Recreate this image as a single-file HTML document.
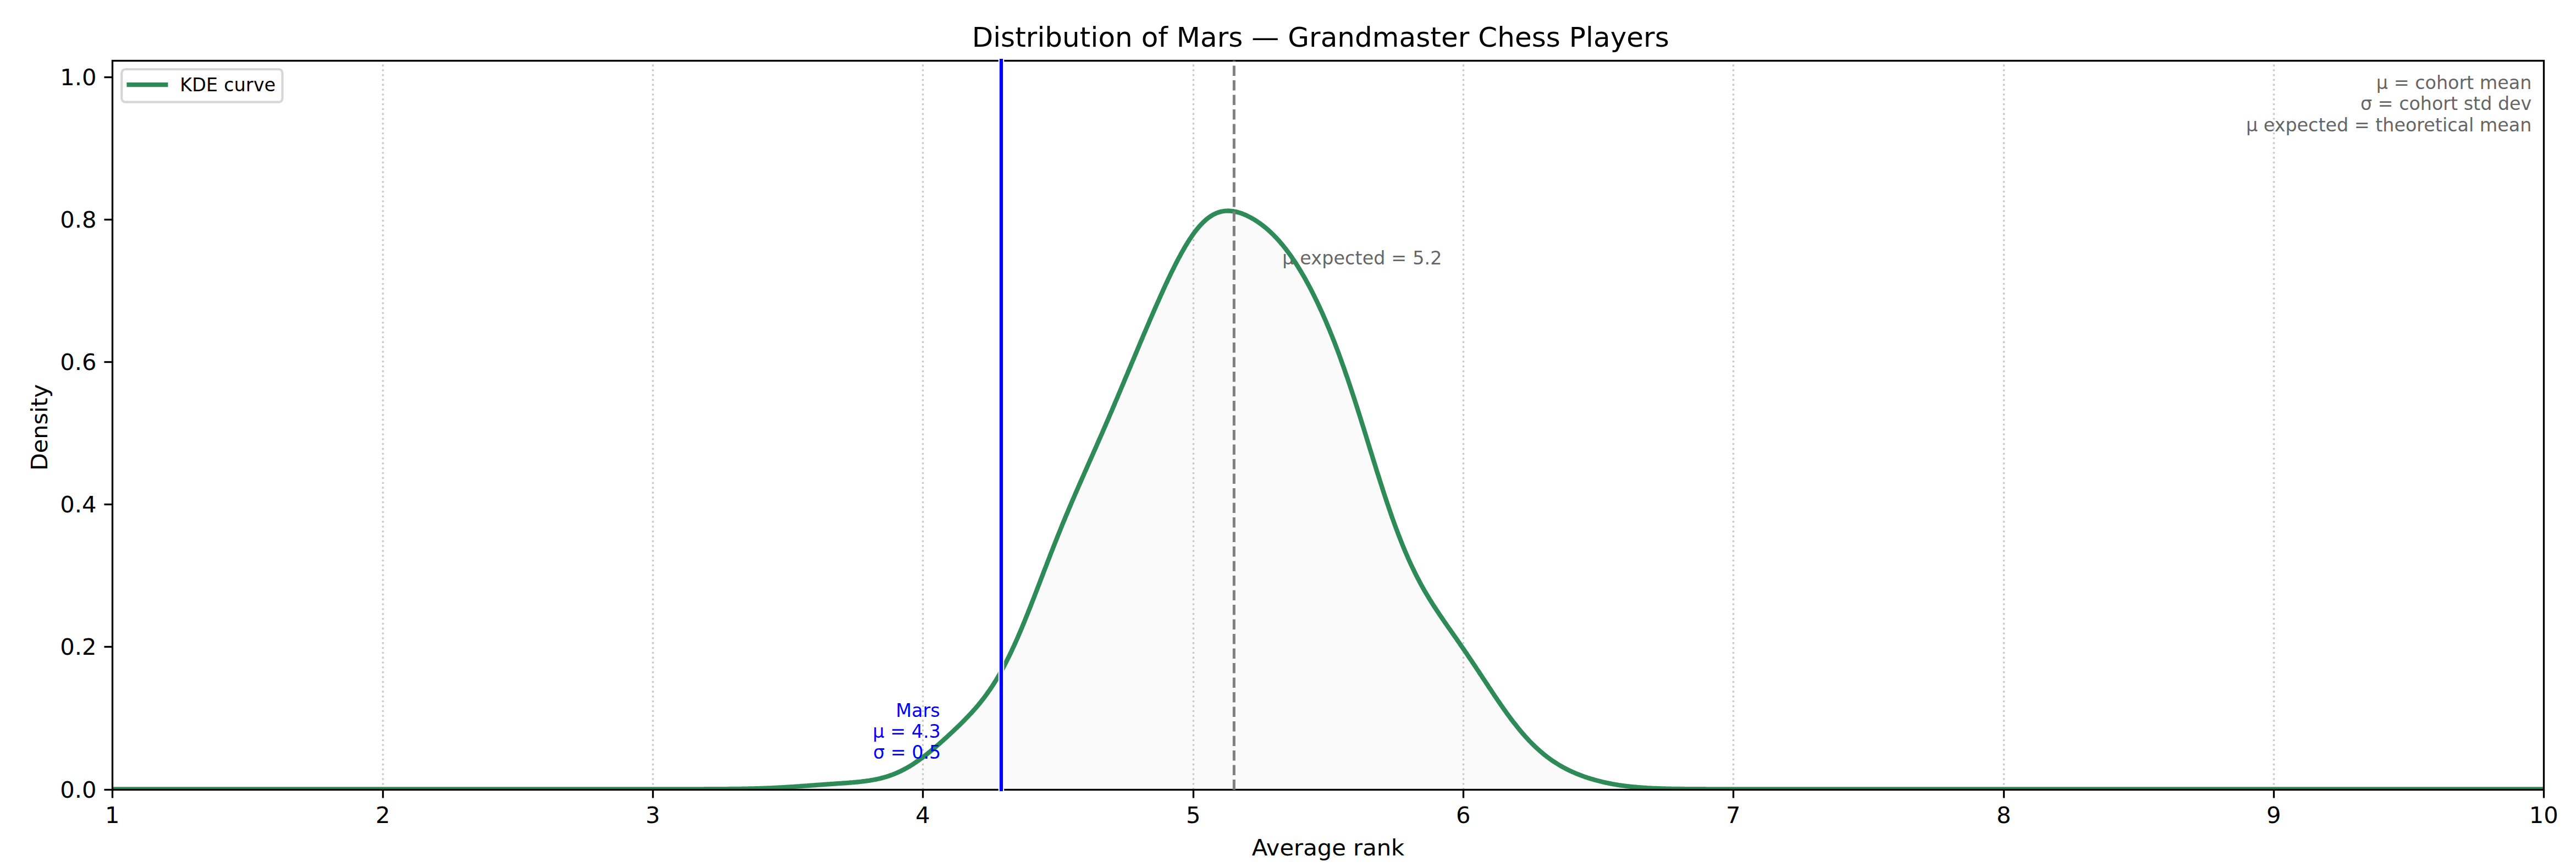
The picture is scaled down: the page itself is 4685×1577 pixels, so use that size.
<!DOCTYPE html>
<html lang="en"><head><meta charset="utf-8"><title>Distribution of Mars — Grandmaster Chess Players</title>
<style>
html,body{margin:0;padding:0;background:#fff;}
body{width:4685px;height:1577px;overflow:hidden;}
svg{display:block;}
text{font-family:'DejaVu Sans','Liberation Sans',sans-serif;}
.t10{font-size:41.67px;fill:#000;}
.t8{font-size:33.33px;}
.g{fill:#666666;}
.b{fill:#0000ff;}
</style></head><body>
<svg width="4685" height="1577" viewBox="0 0 4685 1577">
<rect x="0" y="0" width="4685" height="1577" fill="#ffffff"/>
<defs><clipPath id="ax"><rect x="204.3" y="110.2" width="4422.0" height="1325.4"/></clipPath></defs>
<g clip-path="url(#ax)">
<path d="M204.6,1435.3 L253.7,1435.3 L302.9,1435.3 L352.0,1435.3 L401.1,1435.3 L450.3,1435.3 L499.4,1435.3 L548.5,1435.3 L597.6,1435.3 L646.8,1435.3 L695.9,1435.3 L745.0,1435.3 L794.2,1435.3 L843.3,1435.3 L892.4,1435.3 L941.6,1435.3 L990.7,1435.3 L1039.8,1435.3 L1089.0,1435.3 L1138.1,1435.3 L1187.2,1435.3 L1189.2,1435.3 L1191.2,1435.3 L1193.1,1435.3 L1195.1,1435.3 L1197.0,1435.3 L1199.0,1435.3 L1201.0,1435.3 L1202.9,1435.3 L1204.9,1435.3 L1206.9,1435.3 L1208.8,1435.3 L1210.8,1435.3 L1212.8,1435.3 L1214.7,1435.3 L1216.7,1435.3 L1218.7,1435.3 L1220.6,1435.3 L1222.6,1435.3 L1224.6,1435.3 L1226.5,1435.3 L1228.5,1435.3 L1230.5,1435.3 L1232.4,1435.3 L1234.4,1435.3 L1236.4,1435.3 L1238.3,1435.3 L1240.3,1435.3 L1242.2,1435.3 L1244.2,1435.3 L1246.2,1435.3 L1248.1,1435.3 L1250.1,1435.3 L1252.1,1435.3 L1254.0,1435.3 L1256.0,1435.3 L1258.0,1435.3 L1259.9,1435.3 L1261.9,1435.3 L1263.9,1435.3 L1265.8,1435.3 L1267.8,1435.3 L1269.8,1435.3 L1271.7,1435.3 L1273.7,1435.3 L1275.7,1435.3 L1277.6,1435.3 L1279.6,1435.3 L1281.6,1435.2 L1283.5,1435.2 L1285.5,1435.2 L1287.4,1435.2 L1289.4,1435.2 L1291.4,1435.2 L1293.3,1435.2 L1295.3,1435.2 L1297.3,1435.2 L1299.2,1435.2 L1301.2,1435.2 L1303.2,1435.2 L1305.1,1435.2 L1307.1,1435.2 L1309.1,1435.2 L1311.0,1435.1 L1313.0,1435.1 L1315.0,1435.1 L1316.9,1435.1 L1318.9,1435.1 L1320.9,1435.1 L1322.8,1435.1 L1324.8,1435.0 L1326.8,1435.0 L1328.7,1435.0 L1330.7,1435.0 L1332.7,1435.0 L1334.6,1435.0 L1336.6,1434.9 L1338.5,1434.9 L1340.5,1434.9 L1342.5,1434.9 L1344.4,1434.8 L1346.4,1434.8 L1348.4,1434.8 L1350.3,1434.7 L1352.3,1434.7 L1354.3,1434.7 L1356.2,1434.6 L1358.2,1434.6 L1360.2,1434.6 L1362.1,1434.5 L1364.1,1434.5 L1366.1,1434.4 L1368.0,1434.4 L1370.0,1434.3 L1372.0,1434.3 L1373.9,1434.2 L1375.9,1434.2 L1377.9,1434.1 L1379.8,1434.1 L1381.8,1434.0 L1383.7,1433.9 L1385.7,1433.9 L1387.7,1433.8 L1389.6,1433.7 L1391.6,1433.7 L1393.6,1433.6 L1395.5,1433.5 L1397.5,1433.4 L1399.5,1433.4 L1401.4,1433.3 L1403.4,1433.2 L1405.4,1433.1 L1407.3,1433.0 L1409.3,1432.9 L1411.3,1432.8 L1413.2,1432.7 L1415.2,1432.6 L1417.2,1432.5 L1419.1,1432.4 L1421.1,1432.3 L1423.1,1432.2 L1425.0,1432.1 L1427.0,1432.0 L1428.9,1431.8 L1430.9,1431.7 L1432.9,1431.6 L1434.8,1431.5 L1436.8,1431.4 L1438.8,1431.2 L1440.7,1431.1 L1442.7,1431.0 L1444.7,1430.8 L1446.6,1430.7 L1448.6,1430.6 L1450.6,1430.4 L1452.5,1430.3 L1454.5,1430.2 L1456.5,1430.0 L1458.4,1429.9 L1460.4,1429.7 L1462.4,1429.6 L1464.3,1429.4 L1466.3,1429.3 L1468.3,1429.2 L1470.2,1429.0 L1472.2,1428.9 L1474.1,1428.7 L1476.1,1428.6 L1478.1,1428.4 L1480.0,1428.3 L1482.0,1428.1 L1484.0,1428.0 L1485.9,1427.9 L1487.9,1427.7 L1489.9,1427.6 L1491.8,1427.4 L1493.8,1427.3 L1495.8,1427.1 L1497.7,1427.0 L1499.7,1426.9 L1501.7,1426.7 L1503.6,1426.6 L1505.6,1426.4 L1507.6,1426.3 L1509.5,1426.2 L1511.5,1426.0 L1513.5,1425.9 L1515.4,1425.8 L1517.4,1425.6 L1519.3,1425.5 L1521.3,1425.4 L1523.3,1425.2 L1525.2,1425.1 L1527.2,1424.9 L1529.2,1424.8 L1531.1,1424.7 L1533.1,1424.5 L1535.1,1424.4 L1537.0,1424.3 L1539.0,1424.1 L1541.0,1424.0 L1542.9,1423.8 L1544.9,1423.7 L1546.9,1423.5 L1548.8,1423.3 L1550.8,1423.2 L1552.8,1423.0 L1554.7,1422.8 L1556.7,1422.7 L1558.7,1422.5 L1560.6,1422.3 L1562.6,1422.1 L1564.5,1421.9 L1566.5,1421.7 L1568.5,1421.4 L1570.4,1421.2 L1572.4,1421.0 L1574.4,1420.7 L1576.3,1420.4 L1578.3,1420.1 L1580.3,1419.9 L1582.2,1419.6 L1584.2,1419.2 L1586.2,1418.9 L1588.1,1418.5 L1590.1,1418.2 L1592.1,1417.8 L1594.0,1417.4 L1596.0,1417.0 L1598.0,1416.5 L1599.9,1416.1 L1601.9,1415.6 L1603.9,1415.1 L1605.8,1414.6 L1607.8,1414.0 L1609.7,1413.5 L1611.7,1412.9 L1613.7,1412.3 L1615.6,1411.7 L1617.6,1411.0 L1619.6,1410.3 L1621.5,1409.6 L1623.5,1408.9 L1625.5,1408.1 L1627.4,1407.3 L1629.4,1406.5 L1631.4,1405.7 L1633.3,1404.8 L1635.3,1403.9 L1637.3,1403.0 L1639.2,1402.0 L1641.2,1401.0 L1643.2,1400.0 L1645.1,1399.0 L1647.1,1397.9 L1649.1,1396.8 L1651.0,1395.7 L1653.0,1394.6 L1655.0,1393.4 L1656.9,1392.2 L1658.9,1391.0 L1660.8,1389.7 L1662.8,1388.4 L1664.8,1387.1 L1666.7,1385.8 L1668.7,1384.4 L1670.7,1383.0 L1672.6,1381.6 L1674.6,1380.2 L1676.6,1378.8 L1678.5,1377.3 L1680.5,1375.8 L1682.5,1374.3 L1684.4,1372.8 L1686.4,1371.2 L1688.4,1369.6 L1690.3,1368.1 L1692.3,1366.4 L1694.3,1364.8 L1696.2,1363.2 L1698.2,1361.5 L1700.2,1359.9 L1702.1,1358.2 L1704.1,1356.5 L1706.0,1354.8 L1708.0,1353.1 L1710.0,1351.3 L1711.9,1349.6 L1713.9,1347.9 L1715.9,1346.1 L1717.8,1344.3 L1719.8,1342.5 L1721.8,1340.8 L1723.7,1339.0 L1725.7,1337.1 L1727.7,1335.3 L1729.6,1333.5 L1731.6,1331.7 L1733.6,1329.8 L1735.5,1328.0 L1737.5,1326.1 L1739.5,1324.2 L1741.4,1322.3 L1743.4,1320.4 L1745.4,1318.5 L1747.3,1316.6 L1749.3,1314.6 L1751.2,1312.7 L1753.2,1310.7 L1755.2,1308.7 L1757.1,1306.7 L1759.1,1304.6 L1761.1,1302.6 L1763.0,1300.5 L1765.0,1298.4 L1767.0,1296.3 L1768.9,1294.1 L1770.9,1291.9 L1772.9,1289.7 L1774.8,1287.5 L1776.8,1285.2 L1778.8,1282.8 L1780.7,1280.5 L1782.7,1278.1 L1784.7,1275.6 L1786.6,1273.1 L1788.6,1270.6 L1790.6,1268.0 L1792.5,1265.4 L1794.5,1262.7 L1796.4,1260.0 L1798.4,1257.2 L1800.4,1254.4 L1802.3,1251.5 L1804.3,1248.5 L1806.3,1245.5 L1808.2,1242.4 L1810.2,1239.3 L1812.2,1236.1 L1814.1,1232.8 L1816.1,1229.5 L1818.1,1226.1 L1820.0,1222.6 L1822.0,1219.1 L1824.0,1215.5 L1825.9,1211.8 L1827.9,1208.0 L1829.9,1204.2 L1831.8,1200.4 L1833.8,1196.4 L1835.8,1192.4 L1837.7,1188.4 L1839.7,1184.2 L1841.6,1180.0 L1843.6,1175.8 L1845.6,1171.5 L1847.5,1167.1 L1849.5,1162.7 L1851.5,1158.2 L1853.4,1153.6 L1855.4,1149.0 L1857.4,1144.4 L1859.3,1139.7 L1861.3,1134.9 L1863.3,1130.1 L1865.2,1125.3 L1867.2,1120.4 L1869.2,1115.5 L1871.1,1110.6 L1873.1,1105.6 L1875.1,1100.6 L1877.0,1095.6 L1879.0,1090.5 L1881.0,1085.5 L1882.9,1080.4 L1884.9,1075.3 L1886.8,1070.2 L1888.8,1065.1 L1890.8,1059.9 L1892.7,1054.8 L1894.7,1049.7 L1896.7,1044.5 L1898.6,1039.4 L1900.6,1034.3 L1902.6,1029.2 L1904.5,1024.1 L1906.5,1019.0 L1908.5,1013.9 L1910.4,1008.8 L1912.4,1003.8 L1914.4,998.8 L1916.3,993.8 L1918.3,988.8 L1920.3,983.8 L1922.2,978.9 L1924.2,973.9 L1926.2,969.0 L1928.1,964.2 L1930.1,959.3 L1932.0,954.5 L1934.0,949.7 L1936.0,945.0 L1937.9,940.2 L1939.9,935.5 L1941.9,930.8 L1943.8,926.1 L1945.8,921.5 L1947.8,916.9 L1949.7,912.2 L1951.7,907.7 L1953.7,903.1 L1955.6,898.5 L1957.6,894.0 L1959.6,889.5 L1961.5,885.0 L1963.5,880.5 L1965.5,876.0 L1967.4,871.6 L1969.4,867.1 L1971.4,862.6 L1973.3,858.2 L1975.3,853.8 L1977.3,849.3 L1979.2,844.9 L1981.2,840.4 L1983.1,836.0 L1985.1,831.6 L1987.1,827.1 L1989.0,822.7 L1991.0,818.2 L1993.0,813.8 L1994.9,809.3 L1996.9,804.8 L1998.9,800.3 L2000.8,795.9 L2002.8,791.4 L2004.8,786.8 L2006.7,782.3 L2008.7,777.8 L2010.7,773.3 L2012.6,768.7 L2014.6,764.2 L2016.6,759.6 L2018.5,755.0 L2020.5,750.4 L2022.5,745.8 L2024.4,741.2 L2026.4,736.6 L2028.3,731.9 L2030.3,727.3 L2032.3,722.7 L2034.2,718.0 L2036.2,713.3 L2038.2,708.7 L2040.1,704.0 L2042.1,699.3 L2044.1,694.6 L2046.0,689.9 L2048.0,685.2 L2050.0,680.6 L2051.9,675.9 L2053.9,671.2 L2055.9,666.5 L2057.8,661.8 L2059.8,657.1 L2061.8,652.4 L2063.7,647.7 L2065.7,643.0 L2067.7,638.3 L2069.6,633.6 L2071.6,629.0 L2073.5,624.3 L2075.5,619.6 L2077.5,615.0 L2079.4,610.3 L2081.4,605.7 L2083.4,601.1 L2085.3,596.5 L2087.3,591.9 L2089.3,587.3 L2091.2,582.7 L2093.2,578.1 L2095.2,573.6 L2097.1,569.1 L2099.1,564.5 L2101.1,560.0 L2103.0,555.6 L2105.0,551.1 L2107.0,546.7 L2108.9,542.3 L2110.9,537.9 L2112.9,533.5 L2114.8,529.2 L2116.8,524.8 L2118.7,520.6 L2120.7,516.3 L2122.7,512.1 L2124.6,507.9 L2126.6,503.8 L2128.6,499.7 L2130.5,495.6 L2132.5,491.6 L2134.5,487.6 L2136.4,483.7 L2138.4,479.8 L2140.4,476.0 L2142.3,472.2 L2144.3,468.5 L2146.3,464.9 L2148.2,461.3 L2150.2,457.7 L2152.2,454.3 L2154.1,450.9 L2156.1,447.5 L2158.1,444.3 L2160.0,441.1 L2162.0,438.0 L2163.9,434.9 L2165.9,432.0 L2167.9,429.1 L2169.8,426.3 L2171.8,423.6 L2173.8,421.0 L2175.7,418.4 L2177.7,416.0 L2179.7,413.6 L2181.6,411.3 L2183.6,409.2 L2185.6,407.1 L2187.5,405.1 L2189.5,403.2 L2191.5,401.3 L2193.4,399.6 L2195.4,398.0 L2197.4,396.4 L2199.3,395.0 L2201.3,393.6 L2203.3,392.4 L2205.2,391.2 L2207.2,390.1 L2209.1,389.1 L2211.1,388.2 L2213.1,387.4 L2215.0,386.7 L2217.0,386.0 L2219.0,385.4 L2220.9,384.9 L2222.9,384.5 L2224.9,384.2 L2226.8,383.9 L2228.8,383.7 L2230.8,383.6 L2232.7,383.5 L2234.7,383.5 L2236.7,383.6 L2238.6,383.8 L2240.6,384.0 L2242.6,384.2 L2244.5,384.6 L2246.5,384.9 L2248.5,385.4 L2250.4,385.9 L2252.4,386.4 L2254.3,387.0 L2256.3,387.6 L2258.3,388.3 L2260.2,389.0 L2262.2,389.8 L2264.2,390.6 L2266.1,391.5 L2268.1,392.4 L2270.1,393.4 L2272.0,394.4 L2274.0,395.4 L2276.0,396.5 L2277.9,397.6 L2279.9,398.7 L2281.9,399.9 L2283.8,401.2 L2285.8,402.4 L2287.8,403.8 L2289.7,405.1 L2291.7,406.5 L2293.7,407.9 L2295.6,409.4 L2297.6,410.9 L2299.6,412.5 L2301.5,414.1 L2303.5,415.7 L2305.4,417.4 L2307.4,419.2 L2309.4,421.0 L2311.3,422.8 L2313.3,424.7 L2315.3,426.6 L2317.2,428.5 L2319.2,430.6 L2321.2,432.6 L2323.1,434.7 L2325.1,436.9 L2327.1,439.1 L2329.0,441.4 L2331.0,443.7 L2333.0,446.1 L2334.9,448.5 L2336.9,451.0 L2338.9,453.5 L2340.8,456.1 L2342.8,458.7 L2344.8,461.4 L2346.7,464.1 L2348.7,466.9 L2350.6,469.8 L2352.6,472.7 L2354.6,475.6 L2356.5,478.6 L2358.5,481.7 L2360.5,484.8 L2362.4,488.0 L2364.4,491.2 L2366.4,494.5 L2368.3,497.8 L2370.3,501.2 L2372.3,504.6 L2374.2,508.1 L2376.2,511.7 L2378.2,515.3 L2380.1,518.9 L2382.1,522.6 L2384.1,526.4 L2386.0,530.2 L2388.0,534.1 L2390.0,538.0 L2391.9,542.0 L2393.9,546.0 L2395.8,550.1 L2397.8,554.3 L2399.8,558.5 L2401.7,562.8 L2403.7,567.1 L2405.7,571.5 L2407.6,575.9 L2409.6,580.4 L2411.6,585.0 L2413.5,589.6 L2415.5,594.3 L2417.5,599.0 L2419.4,603.8 L2421.4,608.7 L2423.4,613.6 L2425.3,618.5 L2427.3,623.6 L2429.3,628.7 L2431.2,633.9 L2433.2,639.1 L2435.2,644.4 L2437.1,649.7 L2439.1,655.1 L2441.0,660.6 L2443.0,666.1 L2445.0,671.7 L2446.9,677.3 L2448.9,683.0 L2450.9,688.7 L2452.8,694.5 L2454.8,700.4 L2456.8,706.3 L2458.7,712.2 L2460.7,718.2 L2462.7,724.2 L2464.6,730.3 L2466.6,736.4 L2468.6,742.6 L2470.5,748.8 L2472.5,755.0 L2474.5,761.2 L2476.4,767.5 L2478.4,773.8 L2480.4,780.1 L2482.3,786.4 L2484.3,792.8 L2486.2,799.1 L2488.2,805.5 L2490.2,811.9 L2492.1,818.2 L2494.1,824.6 L2496.1,830.9 L2498.0,837.3 L2500.0,843.6 L2502.0,849.9 L2503.9,856.2 L2505.9,862.4 L2507.9,868.6 L2509.8,874.8 L2511.8,881.0 L2513.8,887.1 L2515.7,893.2 L2517.7,899.2 L2519.7,905.2 L2521.6,911.1 L2523.6,917.0 L2525.6,922.8 L2527.5,928.5 L2529.5,934.2 L2531.4,939.8 L2533.4,945.3 L2535.4,950.8 L2537.3,956.2 L2539.3,961.6 L2541.3,966.8 L2543.2,972.0 L2545.2,977.1 L2547.2,982.2 L2549.1,987.1 L2551.1,992.0 L2553.1,996.8 L2555.0,1001.5 L2557.0,1006.1 L2559.0,1010.7 L2560.9,1015.2 L2562.9,1019.6 L2564.9,1023.9 L2566.8,1028.1 L2568.8,1032.3 L2570.8,1036.4 L2572.7,1040.4 L2574.7,1044.4 L2576.7,1048.3 L2578.6,1052.1 L2580.6,1055.8 L2582.5,1059.5 L2584.5,1063.2 L2586.5,1066.7 L2588.4,1070.2 L2590.4,1073.7 L2592.4,1077.1 L2594.3,1080.4 L2596.3,1083.7 L2598.3,1087.0 L2600.2,1090.2 L2602.2,1093.3 L2604.2,1096.5 L2606.1,1099.6 L2608.1,1102.6 L2610.1,1105.6 L2612.0,1108.6 L2614.0,1111.6 L2616.0,1114.5 L2617.9,1117.5 L2619.9,1120.4 L2621.9,1123.2 L2623.8,1126.1 L2625.8,1129.0 L2627.7,1131.8 L2629.7,1134.6 L2631.7,1137.5 L2633.6,1140.3 L2635.6,1143.1 L2637.6,1145.9 L2639.5,1148.7 L2641.5,1151.5 L2643.5,1154.3 L2645.4,1157.1 L2647.4,1159.9 L2649.4,1162.7 L2651.3,1165.6 L2653.3,1168.4 L2655.3,1171.2 L2657.2,1174.1 L2659.2,1176.9 L2661.2,1179.8 L2663.1,1182.6 L2665.1,1185.5 L2667.1,1188.4 L2669.0,1191.3 L2671.0,1194.2 L2672.9,1197.1 L2674.9,1200.0 L2676.9,1202.9 L2678.8,1205.9 L2680.8,1208.8 L2682.8,1211.7 L2684.7,1214.7 L2686.7,1217.7 L2688.7,1220.6 L2690.6,1223.6 L2692.6,1226.6 L2694.6,1229.5 L2696.5,1232.5 L2698.5,1235.5 L2700.5,1238.5 L2702.4,1241.4 L2704.4,1244.4 L2706.4,1247.4 L2708.3,1250.4 L2710.3,1253.3 L2712.3,1256.3 L2714.2,1259.2 L2716.2,1262.2 L2718.1,1265.1 L2720.1,1268.0 L2722.1,1270.9 L2724.0,1273.8 L2726.0,1276.7 L2728.0,1279.5 L2729.9,1282.4 L2731.9,1285.2 L2733.9,1288.0 L2735.8,1290.8 L2737.8,1293.5 L2739.8,1296.3 L2741.7,1299.0 L2743.7,1301.7 L2745.7,1304.3 L2747.6,1307.0 L2749.6,1309.6 L2751.6,1312.2 L2753.5,1314.7 L2755.5,1317.2 L2757.5,1319.7 L2759.4,1322.2 L2761.4,1324.6 L2763.3,1327.0 L2765.3,1329.4 L2767.3,1331.7 L2769.2,1334.0 L2771.2,1336.3 L2773.2,1338.5 L2775.1,1340.7 L2777.1,1342.8 L2779.1,1345.0 L2781.0,1347.1 L2783.0,1349.1 L2785.0,1351.1 L2786.9,1353.1 L2788.9,1355.0 L2790.9,1357.0 L2792.8,1358.8 L2794.8,1360.7 L2796.8,1362.5 L2798.7,1364.2 L2800.7,1366.0 L2802.7,1367.7 L2804.6,1369.3 L2806.6,1371.0 L2808.5,1372.6 L2810.5,1374.1 L2812.5,1375.7 L2814.4,1377.2 L2816.4,1378.6 L2818.4,1380.1 L2820.3,1381.5 L2822.3,1382.9 L2824.3,1384.2 L2826.2,1385.5 L2828.2,1386.8 L2830.2,1388.1 L2832.1,1389.3 L2834.1,1390.5 L2836.1,1391.7 L2838.0,1392.8 L2840.0,1394.0 L2842.0,1395.1 L2843.9,1396.1 L2845.9,1397.2 L2847.9,1398.2 L2849.8,1399.2 L2851.8,1400.2 L2853.7,1401.2 L2855.7,1402.1 L2857.7,1403.0 L2859.6,1403.9 L2861.6,1404.8 L2863.6,1405.7 L2865.5,1406.5 L2867.5,1407.3 L2869.5,1408.1 L2871.4,1408.9 L2873.4,1409.7 L2875.4,1410.4 L2877.3,1411.2 L2879.3,1411.9 L2881.3,1412.6 L2883.2,1413.3 L2885.2,1413.9 L2887.2,1414.6 L2889.1,1415.2 L2891.1,1415.8 L2893.1,1416.5 L2895.0,1417.0 L2897.0,1417.6 L2899.0,1418.2 L2900.9,1418.8 L2902.9,1419.3 L2904.8,1419.8 L2906.8,1420.3 L2908.8,1420.8 L2910.7,1421.3 L2912.7,1421.8 L2914.7,1422.3 L2916.6,1422.7 L2918.6,1423.2 L2920.6,1423.6 L2922.5,1424.0 L2924.5,1424.4 L2926.5,1424.8 L2928.4,1425.2 L2930.4,1425.6 L2932.4,1426.0 L2934.3,1426.3 L2936.3,1426.7 L2938.3,1427.0 L2940.2,1427.3 L2942.2,1427.6 L2944.2,1428.0 L2946.1,1428.3 L2948.1,1428.5 L2950.0,1428.8 L2952.0,1429.1 L2954.0,1429.4 L2955.9,1429.6 L2957.9,1429.9 L2959.9,1430.1 L2961.8,1430.3 L2963.8,1430.5 L2965.8,1430.8 L2967.7,1431.0 L2969.7,1431.2 L2971.7,1431.4 L2973.6,1431.5 L2975.6,1431.7 L2977.6,1431.9 L2979.5,1432.1 L2981.5,1432.2 L2983.5,1432.4 L2985.4,1432.5 L2987.4,1432.6 L2989.4,1432.8 L2991.3,1432.9 L2993.3,1433.0 L2995.2,1433.2 L2997.2,1433.3 L2999.2,1433.4 L3001.1,1433.5 L3003.1,1433.6 L3005.1,1433.7 L3007.0,1433.8 L3009.0,1433.8 L3011.0,1433.9 L3012.9,1434.0 L3014.9,1434.1 L3016.9,1434.1 L3018.8,1434.2 L3020.8,1434.3 L3022.8,1434.3 L3024.7,1434.4 L3026.7,1434.4 L3028.7,1434.5 L3030.6,1434.6 L3032.6,1434.6 L3034.6,1434.6 L3036.5,1434.7 L3038.5,1434.7 L3040.4,1434.8 L3042.4,1434.8 L3044.4,1434.8 L3046.3,1434.9 L3048.3,1434.9 L3050.3,1434.9 L3052.2,1434.9 L3054.2,1435.0 L3056.2,1435.0 L3058.1,1435.0 L3060.1,1435.0 L3062.1,1435.0 L3064.0,1435.1 L3066.0,1435.1 L3068.0,1435.1 L3069.9,1435.1 L3071.9,1435.1 L3073.9,1435.1 L3075.8,1435.1 L3077.8,1435.2 L3079.8,1435.2 L3081.7,1435.2 L3083.7,1435.2 L3085.6,1435.2 L3087.6,1435.2 L3089.6,1435.2 L3091.5,1435.2 L3093.5,1435.2 L3095.5,1435.2 L3097.4,1435.2 L3099.4,1435.2 L3101.4,1435.2 L3103.3,1435.3 L3105.3,1435.3 L3107.3,1435.3 L3109.2,1435.3 L3111.2,1435.3 L3113.2,1435.3 L3115.1,1435.3 L3117.1,1435.3 L3119.1,1435.3 L3121.0,1435.3 L3123.0,1435.3 L3125.0,1435.3 L3126.9,1435.3 L3128.9,1435.3 L3130.8,1435.3 L3132.8,1435.3 L3134.8,1435.3 L3136.7,1435.3 L3138.7,1435.3 L3140.7,1435.3 L3142.6,1435.3 L3144.6,1435.3 L3146.6,1435.3 L3148.5,1435.3 L3150.5,1435.3 L3152.5,1435.3 L3201.6,1435.3 L3250.7,1435.3 L3299.9,1435.3 L3349.0,1435.3 L3398.1,1435.3 L3447.3,1435.3 L3496.4,1435.3 L3545.5,1435.3 L3594.6,1435.3 L3643.8,1435.3 L3692.9,1435.3 L3742.0,1435.3 L3791.2,1435.3 L3840.3,1435.3 L3889.4,1435.3 L3938.6,1435.3 L3987.7,1435.3 L4036.8,1435.3 L4086.0,1435.3 L4135.1,1435.3 L4184.2,1435.3 L4233.4,1435.3 L4282.5,1435.3 L4331.6,1435.3 L4380.7,1435.3 L4429.9,1435.3 L4479.0,1435.3 L4528.1,1435.3 L4577.3,1435.3 L4626.4,1435.3 L4626.3,1435.6 L204.3,1435.6 Z" fill="#fafafa" stroke="none"/>

<line x1="204.5" y1="1436.3" x2="204.5" y2="110.2" stroke="#c9c9c9" stroke-width="3.33" stroke-dasharray="3.33 5.5"/>
<line x1="696.5" y1="1436.3" x2="696.5" y2="110.2" stroke="#c9c9c9" stroke-width="3.33" stroke-dasharray="3.33 5.5"/>
<line x1="1187.5" y1="1436.3" x2="1187.5" y2="110.2" stroke="#c9c9c9" stroke-width="3.33" stroke-dasharray="3.33 5.5"/>
<line x1="1678.5" y1="1436.3" x2="1678.5" y2="110.2" stroke="#c9c9c9" stroke-width="3.33" stroke-dasharray="3.33 5.5"/>
<line x1="2170.5" y1="1436.3" x2="2170.5" y2="110.2" stroke="#c9c9c9" stroke-width="3.33" stroke-dasharray="3.33 5.5"/>
<line x1="2661.5" y1="1436.3" x2="2661.5" y2="110.2" stroke="#c9c9c9" stroke-width="3.33" stroke-dasharray="3.33 5.5"/>
<line x1="3152.5" y1="1436.3" x2="3152.5" y2="110.2" stroke="#c9c9c9" stroke-width="3.33" stroke-dasharray="3.33 5.5"/>
<line x1="3644.5" y1="1436.3" x2="3644.5" y2="110.2" stroke="#c9c9c9" stroke-width="3.33" stroke-dasharray="3.33 5.5"/>
<line x1="4135.5" y1="1436.3" x2="4135.5" y2="110.2" stroke="#c9c9c9" stroke-width="3.33" stroke-dasharray="3.33 5.5"/>
<line x1="4626.5" y1="1436.3" x2="4626.5" y2="110.2" stroke="#c9c9c9" stroke-width="3.33" stroke-dasharray="3.33 5.5"/>
</g>
<text class="t8 g" x="2332.2" y="481.0" letter-spacing="0.13">μ expected = 5.2</text>
<g clip-path="url(#ax)">
<path d="M204.6,1435.3 L253.7,1435.3 L302.9,1435.3 L352.0,1435.3 L401.1,1435.3 L450.3,1435.3 L499.4,1435.3 L548.5,1435.3 L597.6,1435.3 L646.8,1435.3 L695.9,1435.3 L745.0,1435.3 L794.2,1435.3 L843.3,1435.3 L892.4,1435.3 L941.6,1435.3 L990.7,1435.3 L1039.8,1435.3 L1089.0,1435.3 L1138.1,1435.3 L1187.2,1435.3 L1189.2,1435.3 L1191.2,1435.3 L1193.1,1435.3 L1195.1,1435.3 L1197.0,1435.3 L1199.0,1435.3 L1201.0,1435.3 L1202.9,1435.3 L1204.9,1435.3 L1206.9,1435.3 L1208.8,1435.3 L1210.8,1435.3 L1212.8,1435.3 L1214.7,1435.3 L1216.7,1435.3 L1218.7,1435.3 L1220.6,1435.3 L1222.6,1435.3 L1224.6,1435.3 L1226.5,1435.3 L1228.5,1435.3 L1230.5,1435.3 L1232.4,1435.3 L1234.4,1435.3 L1236.4,1435.3 L1238.3,1435.3 L1240.3,1435.3 L1242.2,1435.3 L1244.2,1435.3 L1246.2,1435.3 L1248.1,1435.3 L1250.1,1435.3 L1252.1,1435.3 L1254.0,1435.3 L1256.0,1435.3 L1258.0,1435.3 L1259.9,1435.3 L1261.9,1435.3 L1263.9,1435.3 L1265.8,1435.3 L1267.8,1435.3 L1269.8,1435.3 L1271.7,1435.3 L1273.7,1435.3 L1275.7,1435.3 L1277.6,1435.3 L1279.6,1435.3 L1281.6,1435.2 L1283.5,1435.2 L1285.5,1435.2 L1287.4,1435.2 L1289.4,1435.2 L1291.4,1435.2 L1293.3,1435.2 L1295.3,1435.2 L1297.3,1435.2 L1299.2,1435.2 L1301.2,1435.2 L1303.2,1435.2 L1305.1,1435.2 L1307.1,1435.2 L1309.1,1435.2 L1311.0,1435.1 L1313.0,1435.1 L1315.0,1435.1 L1316.9,1435.1 L1318.9,1435.1 L1320.9,1435.1 L1322.8,1435.1 L1324.8,1435.0 L1326.8,1435.0 L1328.7,1435.0 L1330.7,1435.0 L1332.7,1435.0 L1334.6,1435.0 L1336.6,1434.9 L1338.5,1434.9 L1340.5,1434.9 L1342.5,1434.9 L1344.4,1434.8 L1346.4,1434.8 L1348.4,1434.8 L1350.3,1434.7 L1352.3,1434.7 L1354.3,1434.7 L1356.2,1434.6 L1358.2,1434.6 L1360.2,1434.6 L1362.1,1434.5 L1364.1,1434.5 L1366.1,1434.4 L1368.0,1434.4 L1370.0,1434.3 L1372.0,1434.3 L1373.9,1434.2 L1375.9,1434.2 L1377.9,1434.1 L1379.8,1434.1 L1381.8,1434.0 L1383.7,1433.9 L1385.7,1433.9 L1387.7,1433.8 L1389.6,1433.7 L1391.6,1433.7 L1393.6,1433.6 L1395.5,1433.5 L1397.5,1433.4 L1399.5,1433.4 L1401.4,1433.3 L1403.4,1433.2 L1405.4,1433.1 L1407.3,1433.0 L1409.3,1432.9 L1411.3,1432.8 L1413.2,1432.7 L1415.2,1432.6 L1417.2,1432.5 L1419.1,1432.4 L1421.1,1432.3 L1423.1,1432.2 L1425.0,1432.1 L1427.0,1432.0 L1428.9,1431.8 L1430.9,1431.7 L1432.9,1431.6 L1434.8,1431.5 L1436.8,1431.4 L1438.8,1431.2 L1440.7,1431.1 L1442.7,1431.0 L1444.7,1430.8 L1446.6,1430.7 L1448.6,1430.6 L1450.6,1430.4 L1452.5,1430.3 L1454.5,1430.2 L1456.5,1430.0 L1458.4,1429.9 L1460.4,1429.7 L1462.4,1429.6 L1464.3,1429.4 L1466.3,1429.3 L1468.3,1429.2 L1470.2,1429.0 L1472.2,1428.9 L1474.1,1428.7 L1476.1,1428.6 L1478.1,1428.4 L1480.0,1428.3 L1482.0,1428.1 L1484.0,1428.0 L1485.9,1427.9 L1487.9,1427.7 L1489.9,1427.6 L1491.8,1427.4 L1493.8,1427.3 L1495.8,1427.1 L1497.7,1427.0 L1499.7,1426.9 L1501.7,1426.7 L1503.6,1426.6 L1505.6,1426.4 L1507.6,1426.3 L1509.5,1426.2 L1511.5,1426.0 L1513.5,1425.9 L1515.4,1425.8 L1517.4,1425.6 L1519.3,1425.5 L1521.3,1425.4 L1523.3,1425.2 L1525.2,1425.1 L1527.2,1424.9 L1529.2,1424.8 L1531.1,1424.7 L1533.1,1424.5 L1535.1,1424.4 L1537.0,1424.3 L1539.0,1424.1 L1541.0,1424.0 L1542.9,1423.8 L1544.9,1423.7 L1546.9,1423.5 L1548.8,1423.3 L1550.8,1423.2 L1552.8,1423.0 L1554.7,1422.8 L1556.7,1422.7 L1558.7,1422.5 L1560.6,1422.3 L1562.6,1422.1 L1564.5,1421.9 L1566.5,1421.7 L1568.5,1421.4 L1570.4,1421.2 L1572.4,1421.0 L1574.4,1420.7 L1576.3,1420.4 L1578.3,1420.1 L1580.3,1419.9 L1582.2,1419.6 L1584.2,1419.2 L1586.2,1418.9 L1588.1,1418.5 L1590.1,1418.2 L1592.1,1417.8 L1594.0,1417.4 L1596.0,1417.0 L1598.0,1416.5 L1599.9,1416.1 L1601.9,1415.6 L1603.9,1415.1 L1605.8,1414.6 L1607.8,1414.0 L1609.7,1413.5 L1611.7,1412.9 L1613.7,1412.3 L1615.6,1411.7 L1617.6,1411.0 L1619.6,1410.3 L1621.5,1409.6 L1623.5,1408.9 L1625.5,1408.1 L1627.4,1407.3 L1629.4,1406.5 L1631.4,1405.7 L1633.3,1404.8 L1635.3,1403.9 L1637.3,1403.0 L1639.2,1402.0 L1641.2,1401.0 L1643.2,1400.0 L1645.1,1399.0 L1647.1,1397.9 L1649.1,1396.8 L1651.0,1395.7 L1653.0,1394.6 L1655.0,1393.4 L1656.9,1392.2 L1658.9,1391.0 L1660.8,1389.7 L1662.8,1388.4 L1664.8,1387.1 L1666.7,1385.8 L1668.7,1384.4 L1670.7,1383.0 L1672.6,1381.6 L1674.6,1380.2 L1676.6,1378.8 L1678.5,1377.3 L1680.5,1375.8 L1682.5,1374.3 L1684.4,1372.8 L1686.4,1371.2 L1688.4,1369.6 L1690.3,1368.1 L1692.3,1366.4 L1694.3,1364.8 L1696.2,1363.2 L1698.2,1361.5 L1700.2,1359.9 L1702.1,1358.2 L1704.1,1356.5 L1706.0,1354.8 L1708.0,1353.1 L1710.0,1351.3 L1711.9,1349.6 L1713.9,1347.9 L1715.9,1346.1 L1717.8,1344.3 L1719.8,1342.5 L1721.8,1340.8 L1723.7,1339.0 L1725.7,1337.1 L1727.7,1335.3 L1729.6,1333.5 L1731.6,1331.7 L1733.6,1329.8 L1735.5,1328.0 L1737.5,1326.1 L1739.5,1324.2 L1741.4,1322.3 L1743.4,1320.4 L1745.4,1318.5 L1747.3,1316.6 L1749.3,1314.6 L1751.2,1312.7 L1753.2,1310.7 L1755.2,1308.7 L1757.1,1306.7 L1759.1,1304.6 L1761.1,1302.6 L1763.0,1300.5 L1765.0,1298.4 L1767.0,1296.3 L1768.9,1294.1 L1770.9,1291.9 L1772.9,1289.7 L1774.8,1287.5 L1776.8,1285.2 L1778.8,1282.8 L1780.7,1280.5 L1782.7,1278.1 L1784.7,1275.6 L1786.6,1273.1 L1788.6,1270.6 L1790.6,1268.0 L1792.5,1265.4 L1794.5,1262.7 L1796.4,1260.0 L1798.4,1257.2 L1800.4,1254.4 L1802.3,1251.5 L1804.3,1248.5 L1806.3,1245.5 L1808.2,1242.4 L1810.2,1239.3 L1812.2,1236.1 L1814.1,1232.8 L1816.1,1229.5 L1818.1,1226.1 L1820.0,1222.6 L1822.0,1219.1 L1824.0,1215.5 L1825.9,1211.8 L1827.9,1208.0 L1829.9,1204.2 L1831.8,1200.4 L1833.8,1196.4 L1835.8,1192.4 L1837.7,1188.4 L1839.7,1184.2 L1841.6,1180.0 L1843.6,1175.8 L1845.6,1171.5 L1847.5,1167.1 L1849.5,1162.7 L1851.5,1158.2 L1853.4,1153.6 L1855.4,1149.0 L1857.4,1144.4 L1859.3,1139.7 L1861.3,1134.9 L1863.3,1130.1 L1865.2,1125.3 L1867.2,1120.4 L1869.2,1115.5 L1871.1,1110.6 L1873.1,1105.6 L1875.1,1100.6 L1877.0,1095.6 L1879.0,1090.5 L1881.0,1085.5 L1882.9,1080.4 L1884.9,1075.3 L1886.8,1070.2 L1888.8,1065.1 L1890.8,1059.9 L1892.7,1054.8 L1894.7,1049.7 L1896.7,1044.5 L1898.6,1039.4 L1900.6,1034.3 L1902.6,1029.2 L1904.5,1024.1 L1906.5,1019.0 L1908.5,1013.9 L1910.4,1008.8 L1912.4,1003.8 L1914.4,998.8 L1916.3,993.8 L1918.3,988.8 L1920.3,983.8 L1922.2,978.9 L1924.2,973.9 L1926.2,969.0 L1928.1,964.2 L1930.1,959.3 L1932.0,954.5 L1934.0,949.7 L1936.0,945.0 L1937.9,940.2 L1939.9,935.5 L1941.9,930.8 L1943.8,926.1 L1945.8,921.5 L1947.8,916.9 L1949.7,912.2 L1951.7,907.7 L1953.7,903.1 L1955.6,898.5 L1957.6,894.0 L1959.6,889.5 L1961.5,885.0 L1963.5,880.5 L1965.5,876.0 L1967.4,871.6 L1969.4,867.1 L1971.4,862.6 L1973.3,858.2 L1975.3,853.8 L1977.3,849.3 L1979.2,844.9 L1981.2,840.4 L1983.1,836.0 L1985.1,831.6 L1987.1,827.1 L1989.0,822.7 L1991.0,818.2 L1993.0,813.8 L1994.9,809.3 L1996.9,804.8 L1998.9,800.3 L2000.8,795.9 L2002.8,791.4 L2004.8,786.8 L2006.7,782.3 L2008.7,777.8 L2010.7,773.3 L2012.6,768.7 L2014.6,764.2 L2016.6,759.6 L2018.5,755.0 L2020.5,750.4 L2022.5,745.8 L2024.4,741.2 L2026.4,736.6 L2028.3,731.9 L2030.3,727.3 L2032.3,722.7 L2034.2,718.0 L2036.2,713.3 L2038.2,708.7 L2040.1,704.0 L2042.1,699.3 L2044.1,694.6 L2046.0,689.9 L2048.0,685.2 L2050.0,680.6 L2051.9,675.9 L2053.9,671.2 L2055.9,666.5 L2057.8,661.8 L2059.8,657.1 L2061.8,652.4 L2063.7,647.7 L2065.7,643.0 L2067.7,638.3 L2069.6,633.6 L2071.6,629.0 L2073.5,624.3 L2075.5,619.6 L2077.5,615.0 L2079.4,610.3 L2081.4,605.7 L2083.4,601.1 L2085.3,596.5 L2087.3,591.9 L2089.3,587.3 L2091.2,582.7 L2093.2,578.1 L2095.2,573.6 L2097.1,569.1 L2099.1,564.5 L2101.1,560.0 L2103.0,555.6 L2105.0,551.1 L2107.0,546.7 L2108.9,542.3 L2110.9,537.9 L2112.9,533.5 L2114.8,529.2 L2116.8,524.8 L2118.7,520.6 L2120.7,516.3 L2122.7,512.1 L2124.6,507.9 L2126.6,503.8 L2128.6,499.7 L2130.5,495.6 L2132.5,491.6 L2134.5,487.6 L2136.4,483.7 L2138.4,479.8 L2140.4,476.0 L2142.3,472.2 L2144.3,468.5 L2146.3,464.9 L2148.2,461.3 L2150.2,457.7 L2152.2,454.3 L2154.1,450.9 L2156.1,447.5 L2158.1,444.3 L2160.0,441.1 L2162.0,438.0 L2163.9,434.9 L2165.9,432.0 L2167.9,429.1 L2169.8,426.3 L2171.8,423.6 L2173.8,421.0 L2175.7,418.4 L2177.7,416.0 L2179.7,413.6 L2181.6,411.3 L2183.6,409.2 L2185.6,407.1 L2187.5,405.1 L2189.5,403.2 L2191.5,401.3 L2193.4,399.6 L2195.4,398.0 L2197.4,396.4 L2199.3,395.0 L2201.3,393.6 L2203.3,392.4 L2205.2,391.2 L2207.2,390.1 L2209.1,389.1 L2211.1,388.2 L2213.1,387.4 L2215.0,386.7 L2217.0,386.0 L2219.0,385.4 L2220.9,384.9 L2222.9,384.5 L2224.9,384.2 L2226.8,383.9 L2228.8,383.7 L2230.8,383.6 L2232.7,383.5 L2234.7,383.5 L2236.7,383.6 L2238.6,383.8 L2240.6,384.0 L2242.6,384.2 L2244.5,384.6 L2246.5,384.9 L2248.5,385.4 L2250.4,385.9 L2252.4,386.4 L2254.3,387.0 L2256.3,387.6 L2258.3,388.3 L2260.2,389.0 L2262.2,389.8 L2264.2,390.6 L2266.1,391.5 L2268.1,392.4 L2270.1,393.4 L2272.0,394.4 L2274.0,395.4 L2276.0,396.5 L2277.9,397.6 L2279.9,398.7 L2281.9,399.9 L2283.8,401.2 L2285.8,402.4 L2287.8,403.8 L2289.7,405.1 L2291.7,406.5 L2293.7,407.9 L2295.6,409.4 L2297.6,410.9 L2299.6,412.5 L2301.5,414.1 L2303.5,415.7 L2305.4,417.4 L2307.4,419.2 L2309.4,421.0 L2311.3,422.8 L2313.3,424.7 L2315.3,426.6 L2317.2,428.5 L2319.2,430.6 L2321.2,432.6 L2323.1,434.7 L2325.1,436.9 L2327.1,439.1 L2329.0,441.4 L2331.0,443.7 L2333.0,446.1 L2334.9,448.5 L2336.9,451.0 L2338.9,453.5 L2340.8,456.1 L2342.8,458.7 L2344.8,461.4 L2346.7,464.1 L2348.7,466.9 L2350.6,469.8 L2352.6,472.7 L2354.6,475.6 L2356.5,478.6 L2358.5,481.7 L2360.5,484.8 L2362.4,488.0 L2364.4,491.2 L2366.4,494.5 L2368.3,497.8 L2370.3,501.2 L2372.3,504.6 L2374.2,508.1 L2376.2,511.7 L2378.2,515.3 L2380.1,518.9 L2382.1,522.6 L2384.1,526.4 L2386.0,530.2 L2388.0,534.1 L2390.0,538.0 L2391.9,542.0 L2393.9,546.0 L2395.8,550.1 L2397.8,554.3 L2399.8,558.5 L2401.7,562.8 L2403.7,567.1 L2405.7,571.5 L2407.6,575.9 L2409.6,580.4 L2411.6,585.0 L2413.5,589.6 L2415.5,594.3 L2417.5,599.0 L2419.4,603.8 L2421.4,608.7 L2423.4,613.6 L2425.3,618.5 L2427.3,623.6 L2429.3,628.7 L2431.2,633.9 L2433.2,639.1 L2435.2,644.4 L2437.1,649.7 L2439.1,655.1 L2441.0,660.6 L2443.0,666.1 L2445.0,671.7 L2446.9,677.3 L2448.9,683.0 L2450.9,688.7 L2452.8,694.5 L2454.8,700.4 L2456.8,706.3 L2458.7,712.2 L2460.7,718.2 L2462.7,724.2 L2464.6,730.3 L2466.6,736.4 L2468.6,742.6 L2470.5,748.8 L2472.5,755.0 L2474.5,761.2 L2476.4,767.5 L2478.4,773.8 L2480.4,780.1 L2482.3,786.4 L2484.3,792.8 L2486.2,799.1 L2488.2,805.5 L2490.2,811.9 L2492.1,818.2 L2494.1,824.6 L2496.1,830.9 L2498.0,837.3 L2500.0,843.6 L2502.0,849.9 L2503.9,856.2 L2505.9,862.4 L2507.9,868.6 L2509.8,874.8 L2511.8,881.0 L2513.8,887.1 L2515.7,893.2 L2517.7,899.2 L2519.7,905.2 L2521.6,911.1 L2523.6,917.0 L2525.6,922.8 L2527.5,928.5 L2529.5,934.2 L2531.4,939.8 L2533.4,945.3 L2535.4,950.8 L2537.3,956.2 L2539.3,961.6 L2541.3,966.8 L2543.2,972.0 L2545.2,977.1 L2547.2,982.2 L2549.1,987.1 L2551.1,992.0 L2553.1,996.8 L2555.0,1001.5 L2557.0,1006.1 L2559.0,1010.7 L2560.9,1015.2 L2562.9,1019.6 L2564.9,1023.9 L2566.8,1028.1 L2568.8,1032.3 L2570.8,1036.4 L2572.7,1040.4 L2574.7,1044.4 L2576.7,1048.3 L2578.6,1052.1 L2580.6,1055.8 L2582.5,1059.5 L2584.5,1063.2 L2586.5,1066.7 L2588.4,1070.2 L2590.4,1073.7 L2592.4,1077.1 L2594.3,1080.4 L2596.3,1083.7 L2598.3,1087.0 L2600.2,1090.2 L2602.2,1093.3 L2604.2,1096.5 L2606.1,1099.6 L2608.1,1102.6 L2610.1,1105.6 L2612.0,1108.6 L2614.0,1111.6 L2616.0,1114.5 L2617.9,1117.5 L2619.9,1120.4 L2621.9,1123.2 L2623.8,1126.1 L2625.8,1129.0 L2627.7,1131.8 L2629.7,1134.6 L2631.7,1137.5 L2633.6,1140.3 L2635.6,1143.1 L2637.6,1145.9 L2639.5,1148.7 L2641.5,1151.5 L2643.5,1154.3 L2645.4,1157.1 L2647.4,1159.9 L2649.4,1162.7 L2651.3,1165.6 L2653.3,1168.4 L2655.3,1171.2 L2657.2,1174.1 L2659.2,1176.9 L2661.2,1179.8 L2663.1,1182.6 L2665.1,1185.5 L2667.1,1188.4 L2669.0,1191.3 L2671.0,1194.2 L2672.9,1197.1 L2674.9,1200.0 L2676.9,1202.9 L2678.8,1205.9 L2680.8,1208.8 L2682.8,1211.7 L2684.7,1214.7 L2686.7,1217.7 L2688.7,1220.6 L2690.6,1223.6 L2692.6,1226.6 L2694.6,1229.5 L2696.5,1232.5 L2698.5,1235.5 L2700.5,1238.5 L2702.4,1241.4 L2704.4,1244.4 L2706.4,1247.4 L2708.3,1250.4 L2710.3,1253.3 L2712.3,1256.3 L2714.2,1259.2 L2716.2,1262.2 L2718.1,1265.1 L2720.1,1268.0 L2722.1,1270.9 L2724.0,1273.8 L2726.0,1276.7 L2728.0,1279.5 L2729.9,1282.4 L2731.9,1285.2 L2733.9,1288.0 L2735.8,1290.8 L2737.8,1293.5 L2739.8,1296.3 L2741.7,1299.0 L2743.7,1301.7 L2745.7,1304.3 L2747.6,1307.0 L2749.6,1309.6 L2751.6,1312.2 L2753.5,1314.7 L2755.5,1317.2 L2757.5,1319.7 L2759.4,1322.2 L2761.4,1324.6 L2763.3,1327.0 L2765.3,1329.4 L2767.3,1331.7 L2769.2,1334.0 L2771.2,1336.3 L2773.2,1338.5 L2775.1,1340.7 L2777.1,1342.8 L2779.1,1345.0 L2781.0,1347.1 L2783.0,1349.1 L2785.0,1351.1 L2786.9,1353.1 L2788.9,1355.0 L2790.9,1357.0 L2792.8,1358.8 L2794.8,1360.7 L2796.8,1362.5 L2798.7,1364.2 L2800.7,1366.0 L2802.7,1367.7 L2804.6,1369.3 L2806.6,1371.0 L2808.5,1372.6 L2810.5,1374.1 L2812.5,1375.7 L2814.4,1377.2 L2816.4,1378.6 L2818.4,1380.1 L2820.3,1381.5 L2822.3,1382.9 L2824.3,1384.2 L2826.2,1385.5 L2828.2,1386.8 L2830.2,1388.1 L2832.1,1389.3 L2834.1,1390.5 L2836.1,1391.7 L2838.0,1392.8 L2840.0,1394.0 L2842.0,1395.1 L2843.9,1396.1 L2845.9,1397.2 L2847.9,1398.2 L2849.8,1399.2 L2851.8,1400.2 L2853.7,1401.2 L2855.7,1402.1 L2857.7,1403.0 L2859.6,1403.9 L2861.6,1404.8 L2863.6,1405.7 L2865.5,1406.5 L2867.5,1407.3 L2869.5,1408.1 L2871.4,1408.9 L2873.4,1409.7 L2875.4,1410.4 L2877.3,1411.2 L2879.3,1411.9 L2881.3,1412.6 L2883.2,1413.3 L2885.2,1413.9 L2887.2,1414.6 L2889.1,1415.2 L2891.1,1415.8 L2893.1,1416.5 L2895.0,1417.0 L2897.0,1417.6 L2899.0,1418.2 L2900.9,1418.8 L2902.9,1419.3 L2904.8,1419.8 L2906.8,1420.3 L2908.8,1420.8 L2910.7,1421.3 L2912.7,1421.8 L2914.7,1422.3 L2916.6,1422.7 L2918.6,1423.2 L2920.6,1423.6 L2922.5,1424.0 L2924.5,1424.4 L2926.5,1424.8 L2928.4,1425.2 L2930.4,1425.6 L2932.4,1426.0 L2934.3,1426.3 L2936.3,1426.7 L2938.3,1427.0 L2940.2,1427.3 L2942.2,1427.6 L2944.2,1428.0 L2946.1,1428.3 L2948.1,1428.5 L2950.0,1428.8 L2952.0,1429.1 L2954.0,1429.4 L2955.9,1429.6 L2957.9,1429.9 L2959.9,1430.1 L2961.8,1430.3 L2963.8,1430.5 L2965.8,1430.8 L2967.7,1431.0 L2969.7,1431.2 L2971.7,1431.4 L2973.6,1431.5 L2975.6,1431.7 L2977.6,1431.9 L2979.5,1432.1 L2981.5,1432.2 L2983.5,1432.4 L2985.4,1432.5 L2987.4,1432.6 L2989.4,1432.8 L2991.3,1432.9 L2993.3,1433.0 L2995.2,1433.2 L2997.2,1433.3 L2999.2,1433.4 L3001.1,1433.5 L3003.1,1433.6 L3005.1,1433.7 L3007.0,1433.8 L3009.0,1433.8 L3011.0,1433.9 L3012.9,1434.0 L3014.9,1434.1 L3016.9,1434.1 L3018.8,1434.2 L3020.8,1434.3 L3022.8,1434.3 L3024.7,1434.4 L3026.7,1434.4 L3028.7,1434.5 L3030.6,1434.6 L3032.6,1434.6 L3034.6,1434.6 L3036.5,1434.7 L3038.5,1434.7 L3040.4,1434.8 L3042.4,1434.8 L3044.4,1434.8 L3046.3,1434.9 L3048.3,1434.9 L3050.3,1434.9 L3052.2,1434.9 L3054.2,1435.0 L3056.2,1435.0 L3058.1,1435.0 L3060.1,1435.0 L3062.1,1435.0 L3064.0,1435.1 L3066.0,1435.1 L3068.0,1435.1 L3069.9,1435.1 L3071.9,1435.1 L3073.9,1435.1 L3075.8,1435.1 L3077.8,1435.2 L3079.8,1435.2 L3081.7,1435.2 L3083.7,1435.2 L3085.6,1435.2 L3087.6,1435.2 L3089.6,1435.2 L3091.5,1435.2 L3093.5,1435.2 L3095.5,1435.2 L3097.4,1435.2 L3099.4,1435.2 L3101.4,1435.2 L3103.3,1435.3 L3105.3,1435.3 L3107.3,1435.3 L3109.2,1435.3 L3111.2,1435.3 L3113.2,1435.3 L3115.1,1435.3 L3117.1,1435.3 L3119.1,1435.3 L3121.0,1435.3 L3123.0,1435.3 L3125.0,1435.3 L3126.9,1435.3 L3128.9,1435.3 L3130.8,1435.3 L3132.8,1435.3 L3134.8,1435.3 L3136.7,1435.3 L3138.7,1435.3 L3140.7,1435.3 L3142.6,1435.3 L3144.6,1435.3 L3146.6,1435.3 L3148.5,1435.3 L3150.5,1435.3 L3152.5,1435.3 L3201.6,1435.3 L3250.7,1435.3 L3299.9,1435.3 L3349.0,1435.3 L3398.1,1435.3 L3447.3,1435.3 L3496.4,1435.3 L3545.5,1435.3 L3594.6,1435.3 L3643.8,1435.3 L3692.9,1435.3 L3742.0,1435.3 L3791.2,1435.3 L3840.3,1435.3 L3889.4,1435.3 L3938.6,1435.3 L3987.7,1435.3 L4036.8,1435.3 L4086.0,1435.3 L4135.1,1435.3 L4184.2,1435.3 L4233.4,1435.3 L4282.5,1435.3 L4331.6,1435.3 L4380.7,1435.3 L4429.9,1435.3 L4479.0,1435.3 L4528.1,1435.3 L4577.3,1435.3 L4626.4,1435.3" fill="none" stroke="#2e8b57" stroke-width="8.33" stroke-linejoin="round" stroke-linecap="square"/>
</g>
<rect x="204.5" y="110.5" width="4422.0" height="1326.0" fill="none" stroke="#000" stroke-width="3.33"/>
<line x1="204.5" y1="1436.5" x2="204.5" y2="1451.5" stroke="#000" stroke-width="3.33"/>
<text class="t10" x="204.3" y="1497.3" text-anchor="middle">1</text>
<line x1="696.5" y1="1436.5" x2="696.5" y2="1451.5" stroke="#000" stroke-width="3.33"/>
<text class="t10" x="696.3" y="1497.3" text-anchor="middle">2</text>
<line x1="1187.5" y1="1436.5" x2="1187.5" y2="1451.5" stroke="#000" stroke-width="3.33"/>
<text class="t10" x="1187.3" y="1497.3" text-anchor="middle">3</text>
<line x1="1678.5" y1="1436.5" x2="1678.5" y2="1451.5" stroke="#000" stroke-width="3.33"/>
<text class="t10" x="1678.3" y="1497.3" text-anchor="middle">4</text>
<line x1="2170.5" y1="1436.5" x2="2170.5" y2="1451.5" stroke="#000" stroke-width="3.33"/>
<text class="t10" x="2170.3" y="1497.3" text-anchor="middle">5</text>
<line x1="2661.5" y1="1436.5" x2="2661.5" y2="1451.5" stroke="#000" stroke-width="3.33"/>
<text class="t10" x="2661.3" y="1497.3" text-anchor="middle">6</text>
<line x1="3152.5" y1="1436.5" x2="3152.5" y2="1451.5" stroke="#000" stroke-width="3.33"/>
<text class="t10" x="3152.3" y="1497.3" text-anchor="middle">7</text>
<line x1="3644.5" y1="1436.5" x2="3644.5" y2="1451.5" stroke="#000" stroke-width="3.33"/>
<text class="t10" x="3644.3" y="1497.3" text-anchor="middle">8</text>
<line x1="4135.5" y1="1436.5" x2="4135.5" y2="1451.5" stroke="#000" stroke-width="3.33"/>
<text class="t10" x="4135.3" y="1497.3" text-anchor="middle">9</text>
<line x1="4626.5" y1="1436.5" x2="4626.5" y2="1451.5" stroke="#000" stroke-width="3.33"/>
<text class="t10" x="4626.3" y="1497.3" text-anchor="middle">10</text>
<line x1="204.5" y1="1436.5" x2="189.5" y2="1436.5" stroke="#000" stroke-width="3.33"/>
<text class="t10" x="175.4" y="1451.3" text-anchor="end">0.0</text>
<line x1="204.5" y1="1176.5" x2="189.5" y2="1176.5" stroke="#000" stroke-width="3.33"/>
<text class="t10" x="175.4" y="1191.3" text-anchor="end">0.2</text>
<line x1="204.5" y1="917.5" x2="189.5" y2="917.5" stroke="#000" stroke-width="3.33"/>
<text class="t10" x="175.4" y="932.3" text-anchor="end">0.4</text>
<line x1="204.5" y1="658.5" x2="189.5" y2="658.5" stroke="#000" stroke-width="3.33"/>
<text class="t10" x="175.4" y="673.3" text-anchor="end">0.6</text>
<line x1="204.5" y1="399.5" x2="189.5" y2="399.5" stroke="#000" stroke-width="3.33"/>
<text class="t10" x="175.4" y="414.3" text-anchor="end">0.8</text>
<line x1="204.5" y1="140.5" x2="189.5" y2="140.5" stroke="#000" stroke-width="3.33"/>
<text class="t10" x="175.4" y="155.3" text-anchor="end">1.0</text>
<line x1="2244.4" y1="1436.4" x2="2244.4" y2="110.2" stroke="#808080" stroke-width="5" stroke-dasharray="18.5 8"/>
<line x1="1821.0" y1="1441.0" x2="1821.0" y2="105.0" stroke="#fff" stroke-width="10.42"/>
<line x1="1821.0" y1="1439.0" x2="1821.0" y2="107.0" stroke="#0000ff" stroke-width="6.25"/>
<rect x="221.3" y="126.0" width="292.3" height="59.7" rx="6.67" ry="6.67" fill="#ffffff" fill-opacity="0.8" stroke="#d6d6d6" stroke-width="4.17"/>
<line x1="230.4" y1="154.1" x2="305.5" y2="154.1" stroke="#2e8b57" stroke-width="8.33"/>
<text class="t8" x="327.2" y="166.0" letter-spacing="0.2" fill="#000">KDE curve</text>
<text x="2401.7" y="85.3" text-anchor="middle" font-size="50" letter-spacing="0.035" fill="#000">Distribution of Mars — Grandmaster Chess Players</text>
<text class="t10" x="2415.5" y="1556.1" text-anchor="middle">Average rank</text>
<text class="t10" transform="translate(86.1 777.6) rotate(-90)" text-anchor="middle" letter-spacing="-0.2">Density</text>
<text class="t8 g" x="4604.3" y="162.2" text-anchor="end">μ = cohort mean</text>
<text class="t8 g" x="4604.3" y="200.4" text-anchor="end">σ = cohort std dev</text>
<text class="t8 g" x="4604.3" y="238.6" text-anchor="end">μ expected = theoretical mean</text>
<text class="t8 b" x="1709.5" y="1303.5" text-anchor="end">Mars</text>
<text class="t8 b" x="1710.7" y="1341.7" text-anchor="end">μ = 4.3</text>
<text class="t8 b" x="1711.3" y="1379.8" text-anchor="end">σ = 0.5</text>
</svg></body></html>
